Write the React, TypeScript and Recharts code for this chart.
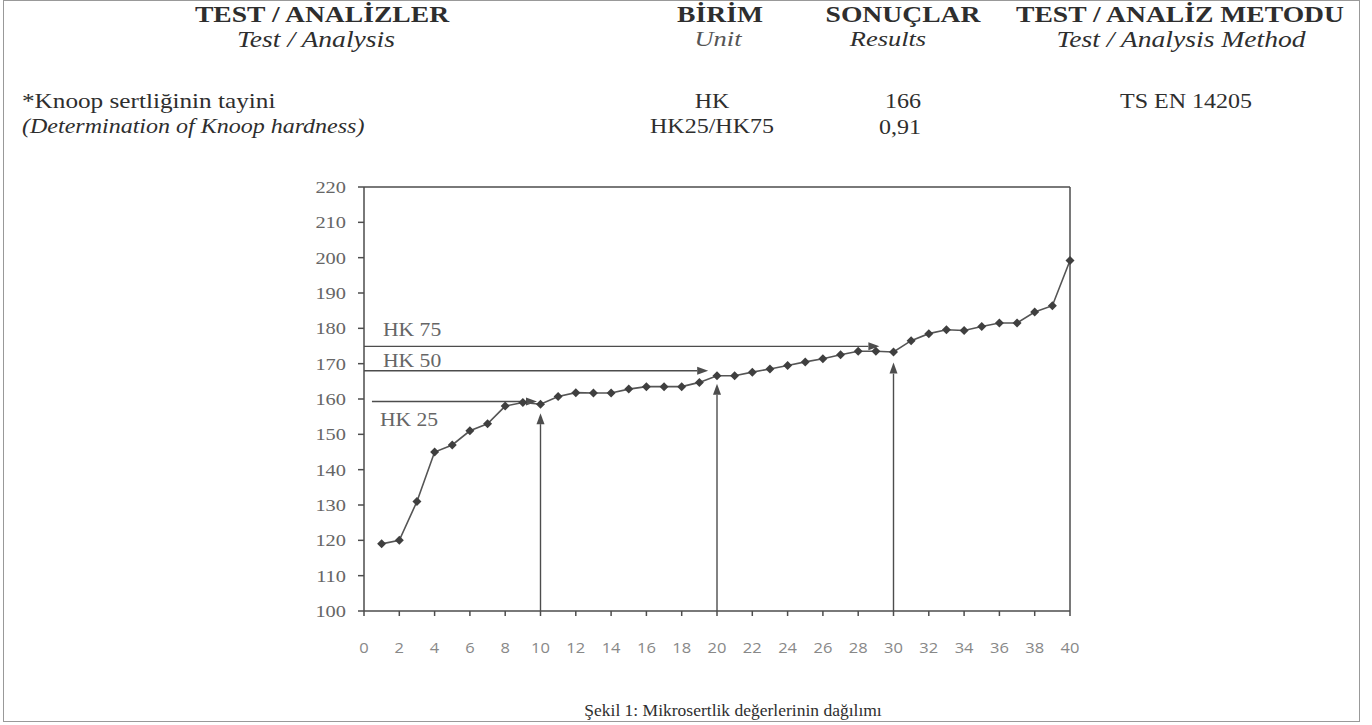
import { LineChart, Line, XAxis, YAxis, ReferenceLine } from 'recharts';

const points = [1, 2, 3, 4, 5, 6, 7, 8, 9, 10, 11, 12, 13, 14, 15, 16, 17, 18, 19, 20,
  21, 22, 23, 24, 25, 26, 27, 28, 29, 30, 31, 32, 33, 34, 35, 36, 37, 38, 39, 40];
const hardness = [119, 120, 131, 145, 147, 151, 153, 158, 159, 158.5, 160.7, 161.8, 161.7, 161.7, 162.8, 163.5, 163.5, 163.5, 164.7, 166.6,
  166.6, 167.6, 168.5, 169.5, 170.5, 171.4, 172.5, 173.5, 173.5, 173.3, 176.5, 178.5, 179.6, 179.4, 180.5, 181.5, 181.5, 184.6, 186.4, 199.2];

const xTicks = [0, 2, 4, 6, 8, 10, 12, 14, 16, 18, 20, 22, 24, 26, 28, 30, 32, 34, 36, 38, 40];
const yTicks = [100, 110, 120, 130, 140, 150, 160, 170, 180, 190, 200, 210, 220];

// HK 25 / 50 / 75 levels, where their arrows stop, and the points they mark
const hkLabels = ['HK 25', 'HK 50', 'HK 75'];
const hkLevels = [159.3, 168, 174.9];
const hkStartX = [0.45, 0, 0];
const hkEndX = [9.8, 19.5, 29.2];
const markX = [10, 20, 30];
const markTipY = [156, 164.3, 170.3];

const data = points.map((n, i) => ({ n, hk: hardness[i] }));

const INK = '#4d4d4d';
const STRETCH = 1.2; // the scanned page is wider than it is tall

const stretch = (x: number, y: number, k = STRETCH) => `translate(${x} ${y}) scale(${k} 1) translate(${-x} ${-y})`;

const Diamond = (props: any) => {
  const { cx, cy } = props;
  if (cx == null || cy == null) return null;
  const r = 4.5;
  return <polygon points={`${cx},${cy - r} ${cx + r},${cy} ${cx},${cy + r} ${cx - r},${cy}`} fill='#3f3f3f' />;
};

const YTick = (props: any) => {
  const { x, y, payload } = props;
  return (
    <text x={x} y={y} dy='0.35em' textAnchor='end' fill='#666' fontSize={17} fontFamily='Liberation Serif' transform={stretch(x, y)}>
      {payload.value}
    </text>
  );
};

const XTick = (props: any) => {
  const { x, y, payload } = props;
  return (
    <text x={x} y={y} dy='0.71em' textAnchor='middle' fill='#888' fontSize={15} fontFamily='Open Sans' transform={stretch(x, y, 1.1)}>
      {payload.value}
    </text>
  );
};

const arrowShape = (label?: string, dx = 0, dy = 0) => (p: any) => {
  const { x1, y1, x2, y2 } = p;
  const a = Math.atan2(y2 - y1, x2 - x1);
  const len = 11;
  const half = 4;
  const bx = x2 - len * Math.cos(a);
  const by = y2 - len * Math.sin(a);
  const s = Math.sin(a);
  const c = Math.cos(a);
  return (
    <g>
      <line x1={x1} y1={y1} x2={bx} y2={by} stroke={INK} strokeWidth={1.4} />
      <polygon points={`${x2},${y2} ${bx - half * s},${by + half * c} ${bx + half * s},${by - half * c}`} fill={INK} />
      {label && (
        <text x={x1 + dx} y={y1 + dy} fill='#666' fontSize={18} fontFamily='Liberation Serif' transform={stretch(x1 + dx, y1 + dy)}>
          {label}
        </text>
      )}
    </g>
  );
};

const hkLabelOffset = [
  [8, 25],
  [19, -4],
  [19, -10],
];

const txt = (left: number, top: number, size: number, center: boolean, extra: any = {}) => ({
  position: 'absolute' as const,
  left,
  top,
  fontSize: size,
  lineHeight: 1,
  whiteSpace: 'nowrap' as const,
  transformOrigin: center ? '50% 50%' : '0 50%',
  transform: center ? `translateX(-50%) scaleX(${STRETCH})` : `scaleX(${STRETCH})`,
  ...extra,
});

export default function App() {
  return (
    <div style={{ position: 'absolute', left: 0, top: 0, width: 1372, height: 725, background: '#fff', fontFamily: 'Liberation Serif', color: '#2e2e2e' }}>
      <div style={{ position: 'absolute', left: 3, top: 0, width: 1355, height: 720, border: '1.5px solid #999' }} />

      <div style={txt(322, 3, 23, true, { fontWeight: 700 })}>TEST / ANALİZLER</div>
      <div style={txt(316, 28, 23, true, { fontStyle: 'italic' })}>Test / Analysis</div>
      <div style={txt(720, 3, 23, true, { fontWeight: 700 })}>BİRİM</div>
      <div style={txt(718, 28, 22, true, { fontStyle: 'italic', color: '#555' })}>Unit</div>
      <div style={txt(903, 3, 23, true, { fontWeight: 700 })}>SONUÇLAR</div>
      <div style={txt(888, 28, 22, true, { fontStyle: 'italic' })}>Results</div>
      <div style={txt(1180, 3, 23, true, { fontWeight: 700 })}>TEST / ANALİZ METODU</div>
      <div style={txt(1181, 28, 23, true, { fontStyle: 'italic' })}>Test / Analysis Method</div>

      <div style={txt(22, 91, 21, false)}>*Knoop sertliğinin tayini</div>
      <div style={txt(22, 116, 20, false, { fontStyle: 'italic' })}>(Determination of Knoop hardness)</div>
      <div style={txt(712, 91, 20, true)}>HK</div>
      <div style={txt(712, 116, 20, true)}>HK25/HK75</div>
      <div style={txt(903, 91, 20, true)}>166</div>
      <div style={txt(900, 117, 20, true)}>0,91</div>
      <div style={txt(1186, 91, 20, true)}>TS EN 14205</div>

      <div style={{ position: 'absolute', left: 290, top: 170 }}>
        <LineChart width={800} height={500} data={data} margin={{ top: 17, right: 20, bottom: 0, left: 0 }}>
          <XAxis
            dataKey='n'
            type='number'
            domain={[0, 40]}
            ticks={xTicks}
            interval={0}
            height={59}
            stroke={INK}
            strokeWidth={1.5}
            tickSize={5}
            tickMargin={26}
            tick={<XTick />}
          />
          <YAxis
            type='number'
            domain={[100, 220]}
            ticks={yTicks}
            interval={0}
            width={74}
            stroke={INK}
            strokeWidth={1.5}
            tickSize={6}
            tickMargin={12}
            tick={<YTick />}
          />
          <ReferenceLine y={220} stroke={INK} strokeWidth={1.5} />
          <ReferenceLine x={40} stroke={INK} strokeWidth={1.5} />
          {hkLevels.map((lv, i) => (
            <ReferenceLine
              key={hkLabels[i]}
              segment={[{ x: hkStartX[i], y: lv }, { x: hkEndX[i], y: lv }]}
              shape={arrowShape(hkLabels[i], hkLabelOffset[i][0], hkLabelOffset[i][1])}
            />
          ))}
          {markX.map((x, i) => (
            <ReferenceLine key={`m${x}`} segment={[{ x, y: 100 }, { x, y: markTipY[i] }]} shape={arrowShape()} />
          ))}
          <Line
            type='linear'
            dataKey='hk'
            stroke='#555'
            strokeWidth={1.6}
            dot={<Diamond />}
            activeDot={false}
            isAnimationActive={false}
          />
        </LineChart>
      </div>

      <div style={{ ...txt(733, 702, 17.5, true), transform: 'translateX(-50%)' }}>Şekil 1: Mikrosertlik değerlerinin dağılımı</div>
    </div>
  );
}
